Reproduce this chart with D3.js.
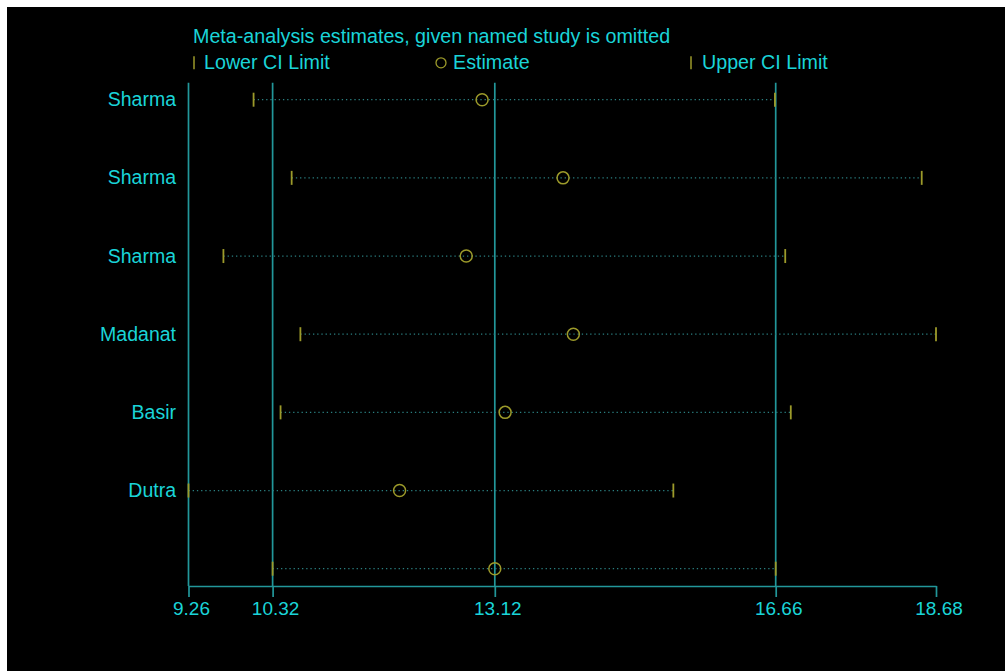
<!DOCTYPE html>
<html>
<head>
<meta charset="utf-8">
<script src="https://cdn.jsdelivr.net/npm/d3@7"></script>
<style>
  html, body { margin: 0; padding: 0; background: #ffffff; }
  svg { display: block; }
  text { font-family: "Liberation Sans", Arial, sans-serif; }
</style>
</head>
<body>
<script>
// Leave-one-out meta-analysis: estimate and CI when each named study is omitted
const studies   = ["Sharma", "Sharma", "Sharma", "Madanat", "Basir", "Dutra", ""];
const lowerCI   = [10.08, 10.56, 9.70, 10.67, 10.42, 9.26, 10.32];
const estimates = [12.96, 13.98, 12.76, 14.11, 13.25, 11.92, 13.12];
const upperCI   = [16.65, 18.50, 16.78, 18.68, 16.85, 15.37, 16.66];
const tickValues = [9.26, 10.32, 13.12, 16.66, 18.68];
const refLines   = [10.32, 13.12, 16.66];
const titleText  = "Meta-analysis estimates, given named study is omitted";
const legendLabels = ["Lower CI Limit", "Estimate", "Upper CI Limit"];

const W = 1005, H = 671;
const cText = "#1ad4d8", cLine = "#22979a", cMark = "#9c9a2a", cDot = "#2a7f80";

const svg = d3.select("body").append("svg").attr("width", W).attr("height", H);
svg.append("rect").attr("x", 7).attr("y", 7).attr("width", W - 7).attr("height", H - 7).attr("fill", "#000");

const x = d3.scaleLinear().domain([9.26, 18.68]).range([188.5, 936]);
const y = d3.scaleLinear().domain([1, 7]).range([99.7, 568.7]);
const rowIdx = d3.range(1, studies.length + 1);
const plotTop = y(1) - 17, axisY = y(7) + 17.3;

// Reference lines and left frame line
svg.append("g").selectAll("line").data([9.26].concat(refLines)).join("line")
  .attr("x1", d => x(d)).attr("x2", d => x(d))
  .attr("y1", plotTop).attr("y2", axisY)
  .attr("stroke", cLine).attr("stroke-width", 1.7);

// Bottom axis
const axis = d3.axisBottom(x).tickValues(tickValues).tickSize(11).tickSizeOuter(0)
  .tickFormat(d3.format(".2f"));
const gx = svg.append("g").attr("transform", `translate(0,${axisY})`).call(axis);
gx.select(".domain").attr("stroke", cLine).attr("stroke-width", 1.7);
gx.selectAll(".tick line").attr("stroke", cLine).attr("stroke-width", 1.7);
gx.selectAll(".tick text").attr("fill", cText).attr("font-size", "19px")
  .attr("font-family", "Liberation Sans, Arial, sans-serif").attr("y", 15.5).attr("dy", "0.71em")
  .attr("dx", 2.5);

// Dotted CI spans
svg.append("g").selectAll("line").data(rowIdx).join("line")
  .attr("x1", i => x(lowerCI[i - 1])).attr("x2", i => x(upperCI[i - 1]))
  .attr("y1", i => y(i)).attr("y2", i => y(i))
  .attr("stroke", cDot).attr("stroke-width", 1.3).attr("stroke-dasharray", "1.3 2.9");

// CI limit markers
const caps = svg.append("g");
[lowerCI, upperCI].forEach(arr => {
  caps.append("g").selectAll("line").data(rowIdx).join("line")
    .attr("x1", i => x(arr[i - 1])).attr("x2", i => x(arr[i - 1]))
    .attr("y1", i => y(i) - 7).attr("y2", i => y(i) + 7)
    .attr("stroke", cMark).attr("stroke-width", 1.8);
});

// Estimates
svg.append("g").selectAll("circle").data(rowIdx).join("circle")
  .attr("cx", i => x(estimates[i - 1])).attr("cy", i => y(i)).attr("r", 6)
  .attr("fill", "none").attr("stroke", cMark).attr("stroke-width", 1.5);

// Study labels
svg.append("g").selectAll("text").data(rowIdx).join("text")
  .attr("x", 176).attr("y", i => y(i) + 6.5).attr("text-anchor", "end")
  .attr("fill", cText).attr("font-size", "19.5px").text(i => studies[i - 1]);

// Title and legend
const fs = "19.7px";
svg.append("text").attr("x", 193).attr("y", 43.3).attr("fill", cText)
  .attr("font-size", fs).text(titleText);

const legendY = 69.3;
svg.append("line").attr("x1", 194).attr("x2", 194).attr("y1", legendY - 13).attr("y2", legendY)
  .attr("stroke", cMark).attr("stroke-width", 1.5);
svg.append("text").attr("x", 204).attr("y", legendY).attr("fill", cText).attr("font-size", fs).text(legendLabels[0]);
svg.append("circle").attr("cx", 441).attr("cy", legendY - 6.5).attr("r", 5)
  .attr("fill", "none").attr("stroke", cMark).attr("stroke-width", 1.3);
svg.append("text").attr("x", 453).attr("y", legendY).attr("fill", cText).attr("font-size", fs).text(legendLabels[1]);
svg.append("line").attr("x1", 691).attr("x2", 691).attr("y1", legendY - 13).attr("y2", legendY)
  .attr("stroke", cMark).attr("stroke-width", 1.5);
svg.append("text").attr("x", 702).attr("y", legendY).attr("fill", cText).attr("font-size", fs).text(legendLabels[2]);
</script>
</body>
</html>
